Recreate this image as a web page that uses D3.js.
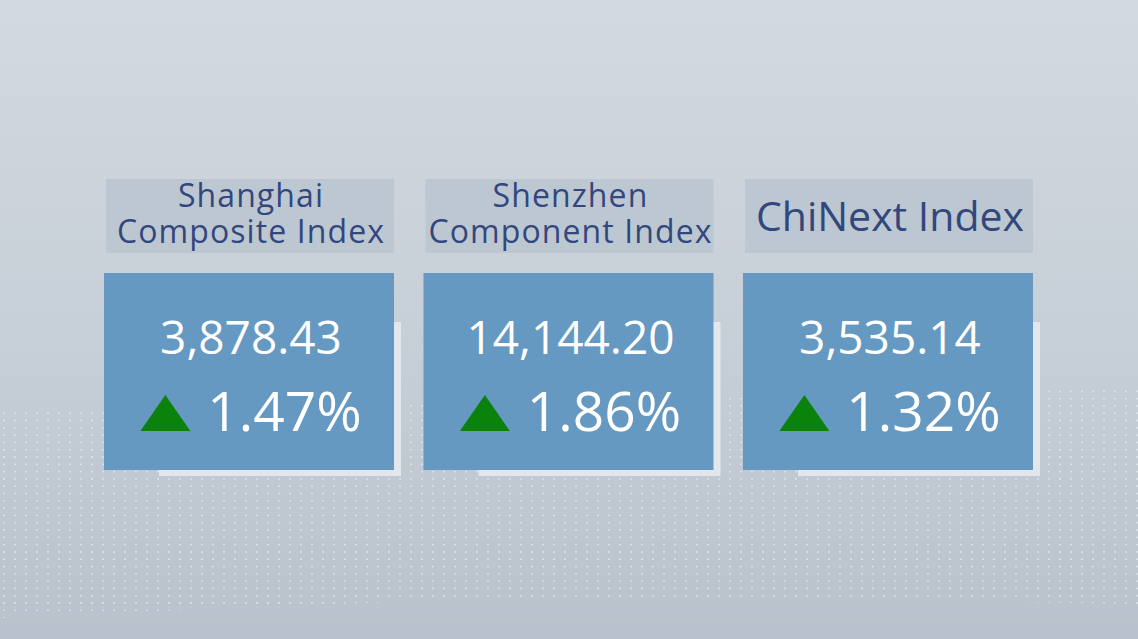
<!DOCTYPE html>
<html>
<head>
<meta charset="utf-8">
<script src="https://cdn.jsdelivr.net/npm/d3@7"></script>
<style>
  html, body { margin: 0; padding: 0; overflow: hidden; }
  svg { display: block; }
</style>
</head>
<body>
<script>
// index names (split into lines as on the card), closing values and daily change
const indexNames = [
  ["Shanghai", "Composite Index"],
  ["Shenzhen", "Component Index"],
  ["ChiNext Index"],
];
const closeValues = [3878.43, 14144.2, 3535.14];
const pctChanges = [1.47, 1.86, 1.32];

const width = 1138;
const height = 639;
const font = "'Open Sans', 'Noto Sans', sans-serif";

const svg = d3
  .select("body")
  .append("svg")
  .attr("width", width)
  .attr("height", height);

const defs = svg.append("defs");

// soft grey-blue backdrop
const bg = defs
  .append("linearGradient")
  .attr("id", "bg")
  .attr("x1", 0)
  .attr("y1", 0)
  .attr("x2", 0)
  .attr("y2", 1);
bg.append("stop").attr("offset", "0%").attr("stop-color", "#d3d9e0");
bg.append("stop").attr("offset", "55%").attr("stop-color", "#c6ced7");
bg.append("stop").attr("offset", "100%").attr("stop-color", "#b9c2cc");

svg
  .append("rect")
  .attr("width", width)
  .attr("height", height)
  .attr("fill", "url(#bg)");

// dotted band behind the cards
defs
  .append("clipPath")
  .attr("id", "dotClip")
  .append("path")
  .attr(
    "d",
    "M0,410 C250,402 500,398 700,395 C900,392 1050,390 1138,390 L1138,604 C900,600 600,598 400,602 C250,606 100,614 0,618 Z"
  );

const dotGroup = svg.append("g").attr("clip-path", "url(#dotClip)");
const dotCols = d3.range(4, width, 11);
const dotRows = d3.range(384, 625, 7.3);
dotRows.forEach((y) => {
  dotGroup
    .selectAll(null)
    .data(dotCols)
    .join("circle")
    .attr("cx", (x) => x)
    .attr("cy", y)
    .attr("r", 0.9)
    .attr("fill", "#eef2f6")
    .attr("opacity", 0.75);
});

// one column per index
const x = d3
  .scaleBand()
  .domain(d3.range(closeValues.length))
  .range([104, 1033])
  .paddingInner(0.0923);

const titleTop = 179;
const titleH = 74;
const cardTop = 273;
const cardH = 197;

const fmtValue = d3.format(",.2f");
const fmtPct = d3.format(".2f");

const cols = svg
  .selectAll(".col")
  .data(closeValues)
  .join("g")
  .attr("class", "col")
  .attr("transform", (d, i) => `translate(${x(i)},0)`);

// title box
cols
  .append("rect")
  .attr("x", 2)
  .attr("y", titleTop)
  .attr("width", x.bandwidth() - 2)
  .attr("height", titleH)
  .attr("fill", "#bdc7d2");

cols.each(function (d, i) {
  const lines = indexNames[i];
  const oneLine = lines.length === 1;
  const t = d3
    .select(this)
    .append("text")
    .attr("text-anchor", "middle")
    .attr("font-family", font)
    .attr("font-size", oneLine ? 41 : 32)
    .attr("letter-spacing", oneLine ? 0 : 1.1)
    .attr("fill", "#32477d");
  if (oneLine) {
    t.append("tspan")
      .attr("x", x.bandwidth() / 2 + 2)
      .attr("y", 231)
      .text(lines[0]);
  } else {
    lines.forEach((line, k) => {
      t.append("tspan")
        .attr("x", x.bandwidth() / 2 + 2)
        .attr("y", 207 + k * 36)
        .text(line);
    });
  }
});

// pale plate peeking out at the right and bottom of each card
cols
  .append("rect")
  .attr("x", 55)
  .attr("y", 322)
  .attr("width", x.bandwidth() - 48)
  .attr("height", 154)
  .attr("fill", "#e2e7ec");

// value card
cols
  .append("rect")
  .attr("x", 0)
  .attr("y", cardTop)
  .attr("width", x.bandwidth())
  .attr("height", cardH)
  .attr("fill", "#6699c1");

cols
  .append("text")
  .attr("x", x.bandwidth() / 2 + 2)
  .attr("y", 354)
  .attr("text-anchor", "middle")
  .attr("font-family", font)
  .attr("font-size", 46)
  .attr("fill", "#ffffff")
  .text((d) => fmtValue(d));

// change row: green triangle + percent, centered as a group
cols.each(function (d, i) {
  const g = d3.select(this).append("g");
  g.append("path")
    .attr("d", "M0,36 L25,0 L50,36 Z")
    .attr("fill", "#0a820c")
    .attr("transform", "translate(0,395)");
  const label = g
    .append("text")
    .attr("x", 67)
    .attr("y", 431)
    .attr("font-family", font)
    .attr("font-size", 55)
    .attr("fill", "#ffffff")
    .text(fmtPct(pctChanges[i]) + "%");
  const w = 67 + label.node().getComputedTextLength();
  g.attr("transform", `translate(${(x.bandwidth() - w) / 2 + 2},0)`);
});
</script>
</body>
</html>
